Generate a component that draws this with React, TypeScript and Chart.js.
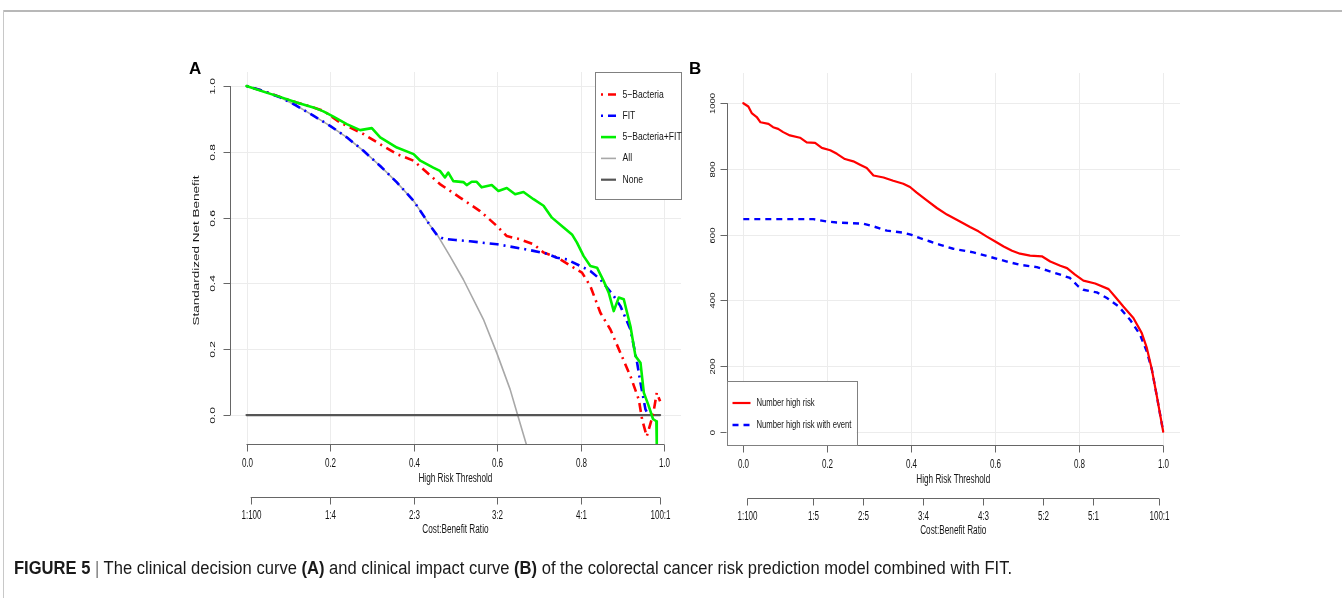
import React, { useEffect, useRef } from 'react';
import { Chart, registerables } from 'chart.js';
Chart.register(...registerables);

// ---------------- Panel A: decision curve ----------------
const bacteriaX = [0, 0.04, 0.08, 0.12, 0.16, 0.184, 0.224, 0.28, 0.32, 0.36, 0.40, 0.432, 0.463, 0.511, 0.559, 0.599, 0.623, 0.655, 0.687, 0.711, 0.735, 0.751, 0.783, 0.803, 0.823, 0.847, 0.871, 0.895, 0.919, 0.939, 0.947, 0.958, 0.966, 0.974, 0.982, 0.99];
const bacteriaY = [1.0, 0.985, 0.967, 0.950, 0.935, 0.925, 0.889, 0.854, 0.823, 0.793, 0.773, 0.737, 0.702, 0.661, 0.620, 0.575, 0.544, 0.534, 0.519, 0.494, 0.483, 0.473, 0.448, 0.433, 0.392, 0.311, 0.260, 0.189, 0.118, 0.047, -0.014, -0.065, -0.03, 0.007, 0.068, 0.042];

const fitX = [0, 0.04, 0.08, 0.12, 0.16, 0.20, 0.24, 0.28, 0.32, 0.36, 0.40, 0.44, 0.456, 0.471, 0.50, 0.535, 0.60, 0.667, 0.687, 0.72, 0.743, 0.767, 0.799, 0.823, 0.847, 0.879, 0.895, 0.919, 0.935, 0.943, 0.955, 0.962];
const fitY = [1.0, 0.985, 0.966, 0.940, 0.910, 0.879, 0.844, 0.803, 0.757, 0.707, 0.651, 0.575, 0.547, 0.536, 0.532, 0.528, 0.519, 0.504, 0.499, 0.490, 0.478, 0.473, 0.453, 0.438, 0.412, 0.362, 0.331, 0.260, 0.159, 0.098, 0.017, 0.0];

const comboX = [0, 0.04, 0.08, 0.12, 0.16, 0.184, 0.208, 0.24, 0.272, 0.30, 0.32, 0.36, 0.40, 0.416, 0.447, 0.463, 0.475, 0.483, 0.495, 0.519, 0.527, 0.539, 0.551, 0.563, 0.587, 0.603, 0.623, 0.643, 0.663, 0.687, 0.711, 0.731, 0.759, 0.779, 0.791, 0.807, 0.823, 0.839, 0.855, 0.867, 0.879, 0.891, 0.903, 0.919, 0.931, 0.943, 0.951, 0.962, 0.973, 0.981, 0.982];
const comboY = [1.0, 0.983, 0.967, 0.950, 0.935, 0.923, 0.907, 0.884, 0.866, 0.872, 0.844, 0.813, 0.793, 0.773, 0.752, 0.742, 0.722, 0.737, 0.711, 0.708, 0.699, 0.709, 0.709, 0.692, 0.699, 0.681, 0.690, 0.671, 0.678, 0.656, 0.636, 0.600, 0.570, 0.549, 0.524, 0.483, 0.453, 0.448, 0.407, 0.372, 0.316, 0.357, 0.352, 0.270, 0.179, 0.159, 0.068, 0.030, -0.012, -0.019, -0.09];

const allX = [0, 0.04, 0.08, 0.12, 0.16, 0.20, 0.24, 0.28, 0.32, 0.36, 0.40, 0.44, 0.456, 0.487, 0.519, 0.567, 0.599, 0.631, 0.649, 0.67];
const allY = [1.0, 0.985, 0.966, 0.940, 0.910, 0.879, 0.844, 0.803, 0.757, 0.707, 0.651, 0.575, 0.549, 0.483, 0.412, 0.291, 0.189, 0.078, 0.0, -0.09];

const noneX = [0, 0.99];
const noneY = [0, 0];

// ---------------- Panel B: clinical impact curve ----------------
const highRiskX = [0, 0.012, 0.020, 0.032, 0.041, 0.060, 0.071, 0.083, 0.095, 0.111, 0.135, 0.151, 0.171, 0.187, 0.207, 0.223, 0.242, 0.262, 0.278, 0.294, 0.310, 0.334, 0.357, 0.381, 0.397, 0.413, 0.437, 0.461, 0.485, 0.516, 0.540, 0.560, 0.580, 0.600, 0.620, 0.640, 0.659, 0.683, 0.711, 0.731, 0.755, 0.771, 0.790, 0.810, 0.838, 0.870, 0.886, 0.905, 0.929, 0.949, 0.961, 0.973, 0.985, 1.0];
const highRiskY = [1000, 990, 970, 958, 942, 937, 927, 922, 912, 902, 895, 881, 879, 864, 857, 846, 830, 823, 813, 803, 780, 774, 764, 755, 745, 728, 704, 681, 661, 640, 623, 610, 594, 579, 564, 551, 542, 536, 534, 518, 505, 498, 478, 460, 451, 434, 410, 381, 346, 300, 255, 189, 107, 0];

const eventX = [0, 0.167, 0.199, 0.223, 0.286, 0.310, 0.342, 0.381, 0.401, 0.421, 0.445, 0.469, 0.500, 0.548, 0.588, 0.628, 0.659, 0.699, 0.723, 0.755, 0.778, 0.798, 0.810, 0.842, 0.866, 0.894, 0.921, 0.945, 0.961, 0.973, 0.985, 1.0];
const eventY = [647, 647, 640, 637, 633, 625, 612, 606, 599, 589, 579, 569, 557, 546, 532, 518, 508, 501, 491, 478, 468, 442, 432, 424, 407, 381, 341, 295, 244, 189, 107, 0];

// ---------------- Ticks ----------------
const thresholdTicks = [0, 0.2, 0.4, 0.6, 0.8, 1.0];
const thresholdLabels = ['0.0', '0.2', '0.4', '0.6', '0.8', '1.0'];
const benefitTicks = [0, 0.2, 0.4, 0.6, 0.8, 1.0];
const benefitLabels = ['0.0', '0.2', '0.4', '0.6', '0.8', '1.0'];
const costTicksA = [0.01, 0.2, 0.4, 0.6, 0.8, 0.99];
const costLabelsA = ['1:100', '1:4', '2:3', '3:2', '4:1', '100:1'];
const costTicksB = [0.01, 0.167, 0.286, 0.429, 0.571, 0.714, 0.833, 0.99];
const costLabelsB = ['1:100', '1:5', '2:5', '3:4', '4:3', '5:2', '5:1', '100:1'];
const countTicks = [0, 200, 400, 600, 800, 1000];
const countLabels = ['0', '200', '400', '600', '800', '1000'];

const FONT = '"Liberation Sans", Arial, Helvetica, sans-serif';
const INK = '#151515';
const AXIS = '#666666';
const GRID = '#ececec';

const RED = '#ff0000';
const BLUE = '#0000ff';
const GREEN = '#00f000';
const GREY = '#a8a8a8';
const NONE = '#555555';

const dotDash = [2, 5, 9, 5];

type LegendItem = { label: string; color: string; dash: number[]; width: number };
type AxisCfg = {
  yTicks: number[]; yLabels: string[]; yLabelSize: number; yLabelOff: number; yTitle?: string;
  costTicks: number[]; costLabels: string[];
  legend: { corner: 'topright' | 'bottomleft'; w: number; h: number; first: number; gap: number; s0: number; s1: number; tx: number; size: number; sx: number; items: LegendItem[] };
};

function txt(ctx: CanvasRenderingContext2D, s: string, x: number, y: number, size: number, sx: number, rotate = false, align: CanvasTextAlign = 'center') {
  ctx.save();
  ctx.translate(x, y);
  ctx.scale(sx, 1);
  if (rotate) ctx.rotate(-Math.PI / 2);
  ctx.font = `${size}px ${FONT}`;
  ctx.fillStyle = INK;
  ctx.textAlign = align;
  ctx.textBaseline = 'middle';
  ctx.fillText(s, 0, 0);
  ctx.restore();
}

function seg(ctx: CanvasRenderingContext2D, x0: number, y0: number, x1: number, y1: number) {
  ctx.beginPath();
  ctx.moveTo(x0, y0);
  ctx.lineTo(x1, y1);
  ctx.stroke();
}

function rAxes(cfg: AxisCfg) {
  return {
    id: 'rAxes',
    beforeDatasetsDraw(chart: any) {
      const { ctx, chartArea: ca, scales } = chart;
      const x = scales.x, y = scales.y;
      ctx.save();
      ctx.strokeStyle = GRID;
      ctx.lineWidth = 1;
      for (const v of thresholdTicks) {
        const p = Math.round(x.getPixelForValue(v)) + 0.5;
        seg(ctx, p, ca.top, p, ca.bottom);
      }
      for (const v of cfg.yTicks) {
        const p = Math.round(y.getPixelForValue(v)) + 0.5;
        seg(ctx, ca.left, p, ca.right, p);
      }
      ctx.restore();
    },
    afterDatasetsDraw(chart: any) {
      const { ctx, chartArea: ca, scales } = chart;
      const x = scales.x, y = scales.y;
      ctx.save();
      ctx.strokeStyle = AXIS;
      ctx.lineWidth = 1;
      ctx.setLineDash([]);
      const tick = 7;
      const sx = 0.67;
      // threshold axis
      const xb = Math.round(ca.bottom) + 0.5;
      const xa = x.getPixelForValue(thresholdTicks[0]);
      const xz = x.getPixelForValue(thresholdTicks[thresholdTicks.length - 1]);
      seg(ctx, xa, xb, xz, xb);
      thresholdTicks.forEach((v, i) => {
        const p = Math.round(x.getPixelForValue(v)) + 0.5;
        seg(ctx, p, xb, p, xb + tick);
        txt(ctx, thresholdLabels[i], p, ca.bottom + 20, 12, sx);
      });
      txt(ctx, 'High Risk Threshold', (xa + xz) / 2, ca.bottom + 35, 12, 0.685);
      // cost:benefit axis
      const cb = Math.round(ca.bottom + 53) + 0.5;
      const ca0 = x.getPixelForValue(cfg.costTicks[0]);
      const ca1 = x.getPixelForValue(cfg.costTicks[cfg.costTicks.length - 1]);
      seg(ctx, ca0, cb, ca1, cb);
      cfg.costTicks.forEach((v, i) => {
        const p = Math.round(x.getPixelForValue(v)) + 0.5;
        seg(ctx, p, cb, p, cb + tick);
        txt(ctx, cfg.costLabels[i], p, ca.bottom + 72, 12, sx);
      });
      txt(ctx, 'Cost:Benefit Ratio', (xa + xz) / 2, ca.bottom + 86, 12, 0.685);
      // y axis
      const yl = Math.round(ca.left) + 0.5;
      const ya = y.getPixelForValue(cfg.yTicks[0]);
      const yz = y.getPixelForValue(cfg.yTicks[cfg.yTicks.length - 1]);
      seg(ctx, yl, ya, yl, yz);
      cfg.yTicks.forEach((v, i) => {
        const p = Math.round(y.getPixelForValue(v)) + 0.5;
        seg(ctx, yl - tick, p, yl, p);
        txt(ctx, cfg.yLabels[i], ca.left - cfg.yLabelOff, p, cfg.yLabelSize, sx, true);
      });
      if (cfg.yTitle) txt(ctx, cfg.yTitle, ca.left - 33, (ya + yz) / 2, 13.5, 0.7, true);
      // legend
      const L = cfg.legend;
      const bx = L.corner === 'topright' ? ca.right - L.w : ca.left;
      const by = L.corner === 'topright' ? ca.top : ca.bottom - L.h;
      ctx.fillStyle = '#ffffff';
      ctx.fillRect(bx, by, L.w, L.h);
      ctx.strokeStyle = '#808080';
      ctx.strokeRect(Math.round(bx) + 0.5, Math.round(by) + 0.5, L.w, L.h);
      L.items.forEach((it, i) => {
        const ry = by + L.first + i * L.gap;
        ctx.save();
        ctx.strokeStyle = it.color;
        ctx.lineWidth = it.width;
        ctx.setLineDash(it.dash);
        ctx.lineCap = 'butt';
        seg(ctx, bx + L.s0, ry, bx + L.s1, ry);
        ctx.restore();
        txt(ctx, it.label, bx + L.tx, ry, L.size, L.sx, false, 'left');
      });
      ctx.restore();
    },
  };
}

function series(xs: number[], ys: number[], label: string, color: string, width: number, dash: number[]) {
  return {
    label,
    data: xs.map((x, i) => ({ x, y: ys[i] })),
    borderColor: color,
    borderWidth: width,
    borderDash: dash,
    borderCapStyle: dash.length ? 'butt' : 'round',
    borderJoinStyle: 'round',
    pointRadius: 0,
    tension: 0,
    fill: false,
  };
}

function chartConfig(datasets: any[], xr: number[], yr: number[], pad: { left: number; right: number; top: number; bottom: number }, cfg: AxisCfg) {
  return {
    type: 'line',
    data: { datasets },
    options: {
      animation: false,
      responsive: false,
      events: [],
      layout: { padding: pad },
      plugins: { legend: { display: false }, tooltip: { enabled: false }, title: { display: false } },
      scales: {
        x: { type: 'linear', display: false, min: xr[0], max: xr[1] },
        y: { type: 'linear', display: false, min: yr[0], max: yr[1] },
      },
    },
    plugins: [rAxes(cfg)],
  } as any;
}

const W = 1342;
const H = 598;

const cfgA: AxisCfg = {
  yTicks: benefitTicks, yLabels: benefitLabels, yLabelSize: 12, yLabelOff: 17, yTitle: 'Standardized Net Benefit',
  costTicks: costTicksA, costLabels: costLabelsA,
  legend: {
    corner: 'topright', w: 86, h: 127, first: 22.5, gap: 21.3, s0: 6, s1: 21, tx: 27.5, size: 11, sx: 0.78,
    items: [
      { label: '5\u2212Bacteria', color: RED, dash: dotDash, width: 2.6 },
      { label: 'FIT', color: BLUE, dash: dotDash, width: 2.6 },
      { label: '5\u2212Bacteria+FIT', color: GREEN, dash: [], width: 2.6 },
      { label: 'All', color: GREY, dash: [], width: 1.6 },
      { label: 'None', color: NONE, dash: [], width: 2.2 },
    ],
  },
};

const cfgB: AxisCfg = {
  yTicks: countTicks, yLabels: countLabels, yLabelSize: 9.5, yLabelOff: 13,
  costTicks: costTicksB, costLabels: costLabelsB,
  legend: {
    corner: 'bottomleft', w: 130, h: 64, first: 22, gap: 22, s0: 6, s1: 24, tx: 30, size: 11, sx: 0.7,
    items: [
      { label: 'Number high risk', color: RED, dash: [], width: 2.2 },
      { label: 'Number high risk with event', color: BLUE, dash: [6, 5], width: 2.4 },
    ],
  },
};

export default function App() {
  const refA = useRef<HTMLCanvasElement>(null);
  const refB = useRef<HTMLCanvasElement>(null);
  useEffect(() => {
    const a = new Chart(refA.current as HTMLCanvasElement, chartConfig(
      [
        series(comboX, comboY, '5-Bacteria+FIT', GREEN, 2.6, []),
        series(fitX, fitY, 'FIT', BLUE, 2.6, dotDash),
        series(bacteriaX, bacteriaY, '5-Bacteria', RED, 2.6, dotDash),
        series(noneX, noneY, 'None', NONE, 2.2, []),
        series(allX, allY, 'All', GREY, 1.6, []),
      ],
      [-0.04, 1.04], [-0.088, 1.0426],
      { left: 229.8, right: W - 681, top: 72, bottom: H - 444 },
      cfgA,
    ));
    const b = new Chart(refB.current as HTMLCanvasElement, chartConfig(
      [
        series(highRiskX, highRiskY, 'Number high risk', RED, 2.2, []),
        series(eventX, eventY, 'Number high risk with event', BLUE, 2.4, [6, 5]),
      ],
      [-0.04, 1.04], [-40.5, 1092],
      { left: 726.5, right: W - 1180, top: 73, bottom: H - 445 },
      cfgB,
    ));
    return () => { a.destroy(); b.destroy(); };
  }, []);

  const abs = { position: 'absolute' as const, left: 0, top: 0 };
  return (
    <div style={{ position: 'absolute', left: 0, top: 0, width: W, height: H, background: '#ffffff', overflow: 'hidden' }}>
      <div style={{ position: 'absolute', left: 3, top: 10, width: W - 3, height: 2, background: '#b8b8b8' }} />
      <div style={{ position: 'absolute', left: 3, top: 10, width: 1, height: H - 10, background: '#c8c8c8' }} />
      <canvas ref={refA} width={W} height={H} style={{ ...abs, width: W, height: H }} />
      <canvas ref={refB} width={W} height={H} style={{ ...abs, width: W, height: H }} />
      <div style={{ position: 'absolute', left: 189, top: 59, font: `bold 17px ${FONT}`, color: '#000', lineHeight: 'normal' }}>A</div>
      <div style={{ position: 'absolute', left: 689, top: 59, font: `bold 17px ${FONT}`, color: '#000', lineHeight: 'normal' }}>B</div>
      <div style={{ position: 'absolute', left: 14, top: 558, font: `18px ${FONT}`, color: '#1a1a1a', whiteSpace: 'nowrap', lineHeight: 'normal', transform: 'scaleX(0.92)', transformOrigin: 'left top' }}>
        <b>FIGURE 5</b> <span style={{ color: '#777' }}>|</span> The clinical decision curve <b>(A)</b> and clinical impact curve <b>(B)</b> of the colorectal cancer risk prediction model combined with FIT.
      </div>
    </div>
  );
}
